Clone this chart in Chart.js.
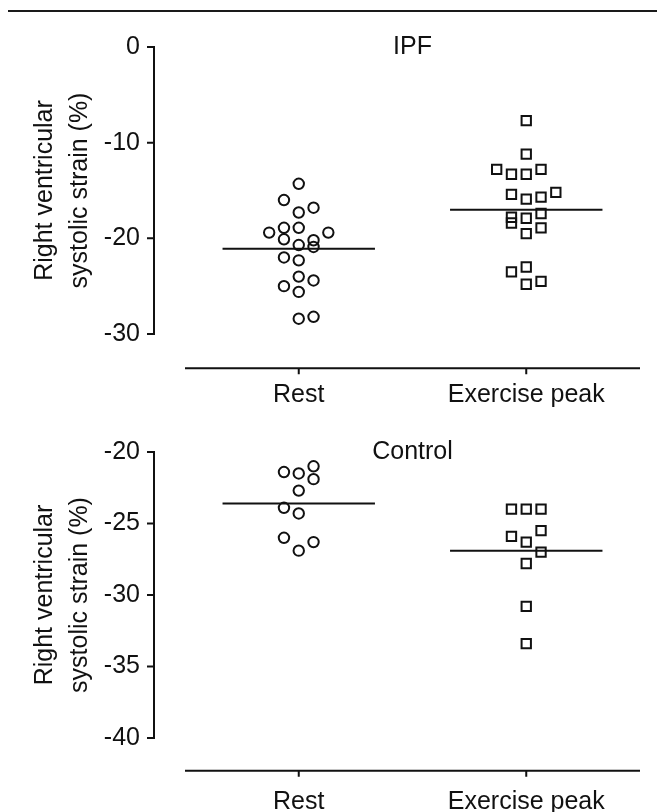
<!DOCTYPE html>
<html>
<head>
<meta charset="utf-8">
<script src="https://cdn.jsdelivr.net/npm/chart.js@4.4.1/dist/chart.umd.min.js"></script>
<style>
  html, body { margin: 0; padding: 0; background: #fff; }
  body { width: 657px; height: 812px; position: relative; overflow: hidden; }
  .rule { position: absolute; left: 8px; right: 0; top: 10px; border-top: 2.5px solid #1a1a1a; }
  .panel { position: absolute; left: 0; width: 657px; }
  #top { top: 0; height: 420px; }
  #bottom { top: 420px; height: 392px; }
</style>
</head>
<body>
<div class="rule"></div>
<div class="panel" id="top"><canvas id="ipf"></canvas></div>
<div class="panel" id="bottom"><canvas id="control"></canvas></div>
<script>
const groups = ['Rest', 'Exercise peak'];
const xTicks = [1, 2];
const yTitle = ['Right ventricular', 'systolic strain (%)'];

// IPF panel
const ipfRest  = [-14.3, -16.0, -16.8, -17.3, -19.4, -18.9, -18.9, -19.4, -20.1, -20.7,
                  -20.2, -20.9, -22.0, -22.3, -24.0, -24.4, -25.0, -25.6, -28.4, -28.2];
const ipfRestX = [1, 0.935, 1.065, 1, 0.87, 0.935, 1, 1.13, 0.935, 1,
                  1.065, 1.065, 0.935, 1, 1, 1.065, 0.935, 1, 1, 1.065];
const ipfEx    = [-7.7, -11.2, -12.8, -13.3, -13.3, -12.8, -15.4, -15.9, -15.7, -15.2,
                  -17.8, -18.4, -17.9, -17.4, -19.5, -18.9, -23.5, -23.0, -24.8, -24.5];
const ipfExX   = [2, 2, 1.87, 1.935, 2, 2.065, 1.935, 2, 2.065, 2.13,
                  1.935, 1.935, 2, 2.065, 2, 2.065, 1.935, 2, 2, 2.065];
const ipfMeans = [-21.1, -17.0];
const ipfTicks = [0, -10, -20, -30];

// Control panel
const ctlRest  = [-21.4, -21.5, -21.0, -21.9, -22.7, -23.9, -24.3, -26.0, -26.3, -26.9];
const ctlRestX = [0.935, 1, 1.065, 1.065, 1, 0.935, 1, 0.935, 1.065, 1];
const ctlEx    = [-24.0, -24.0, -24.0, -25.9, -26.3, -25.5, -27.0, -27.8, -30.8, -33.4];
const ctlExX   = [1.935, 2, 2.065, 1.935, 2, 2.065, 2.065, 2, 2, 2];
const ctlMeans = [-23.6, -26.9];
const ctlTicks = [-20, -25, -30, -35, -40];

const ink = '#111';
const font = { family: "'Liberation Sans', Arial, sans-serif", size: 25 };
const MEAN_HALF = 0.335;

const pts = (xs, ys) => ys.map((v, i) => ({ x: xs[i], y: v }));
const meanLine = (pos, v) => [{ x: pos - MEAN_HALF, y: v }, { x: pos + MEAN_HALF, y: v }];

// axes drawn detached from the plot area, like the original figure
const prismAxes = {
  id: 'prismAxes',
  afterDraw(chart, args, opts) {
    const { ctx, chartArea, scales: { x, y } } = chart;
    ctx.save();
    ctx.strokeStyle = ink;
    ctx.lineWidth = 2;
    ctx.beginPath();
    const ax = chartArea.left - opts.yGap;
    const yTop = y.getPixelForValue(y.max);
    ctx.moveTo(ax, yTop);
    ctx.lineTo(ax, y.getPixelForValue(y.min));
    y.ticks.forEach(t => {
      const py = y.getPixelForValue(t.value);
      ctx.moveTo(ax - 7, py);
      ctx.lineTo(ax + 1, py);
    });
    const ay = chartArea.bottom + opts.xGap;
    ctx.moveTo(x.getPixelForValue(x.min), ay);
    ctx.lineTo(x.getPixelForValue(x.max), ay);
    x.ticks.forEach(t => {
      const px = x.getPixelForValue(t.value);
      ctx.moveTo(px, ay);
      ctx.lineTo(px, ay + 6);
    });
    ctx.stroke();

    ctx.fillStyle = ink;
    ctx.font = font.size + 'px ' + font.family;
    ctx.textAlign = 'center';
    ctx.textBaseline = 'middle';
    ctx.fillText(opts.label, x.getPixelForValue(1.5), yTop);
    ctx.restore();
  }
};

function panel(id, cfg) {
  const markers = { borderColor: ink, borderWidth: 2, backgroundColor: 'rgba(0,0,0,0)' };
  const mean = { showLine: true, borderColor: ink, borderWidth: 2, pointRadius: 0 };
  return new Chart(document.getElementById(id), {
    type: 'scatter',
    data: {
      datasets: [
        { ...mean, data: meanLine(xTicks[0], cfg.means[0]) },
        { ...mean, data: meanLine(xTicks[1], cfg.means[1]) },
        { ...markers, data: pts(cfg.restX, cfg.rest), pointStyle: 'circle', pointRadius: 5.2 },
        { ...markers, data: pts(cfg.exX, cfg.ex), pointStyle: 'rect', pointRadius: 6.6 },
      ],
    },
    options: {
      responsive: true,
      maintainAspectRatio: false,
      animation: false,
      layout: { padding: { top: cfg.padTop, right: 17, left: 0, bottom: 0 } },
      plugins: {
        legend: { display: false },
        tooltip: { enabled: false },
        prismAxes: { label: cfg.label, yGap: 31, xGap: cfg.xGap },
      },
      scales: {
        x: {
          type: 'linear', min: 0.5, max: 2.5,
          grid: { display: false, drawTicks: false },
          border: { display: false },
          afterBuildTicks: s => { s.ticks = xTicks.map(v => ({ value: v })); },
          afterFit: s => { s.height = cfg.xHeight; s.paddingLeft = 0; s.paddingRight = 0; },
          ticks: { font, color: ink, padding: cfg.xPad, callback: v => groups[xTicks.indexOf(v)] },
        },
        y: {
          min: Math.min(...cfg.ticks), max: Math.max(...cfg.ticks),
          grid: { display: false, drawTicks: false },
          border: { display: false },
          afterBuildTicks: s => { s.ticks = cfg.ticks.map(v => ({ value: v })); },
          afterFit: s => { s.width = 185; s.paddingTop = 0; s.paddingBottom = 0; },
          ticks: { font, color: ink, padding: 45 },
          title: {
            display: true, text: yTitle, color: ink,
            font: { ...font, lineHeight: 1.4 },
            padding: { top: 27.5, bottom: 0 },
          },
        },
      },
    },
    plugins: [prismAxes],
  });
}

panel('ipf', {
  label: 'IPF', rest: ipfRest, restX: ipfRestX, ex: ipfEx, exX: ipfExX,
  means: ipfMeans, ticks: ipfTicks, padTop: 47, xHeight: 86, xGap: 34.3, xPad: 46,
});
panel('control', {
  label: 'Control', rest: ctlRest, restX: ctlRestX, ex: ctlEx, exX: ctlExX,
  means: ctlMeans, ticks: ctlTicks, padTop: 32, xHeight: 74, xGap: 32.7, xPad: 49,
});
</script>
</body>
</html>
